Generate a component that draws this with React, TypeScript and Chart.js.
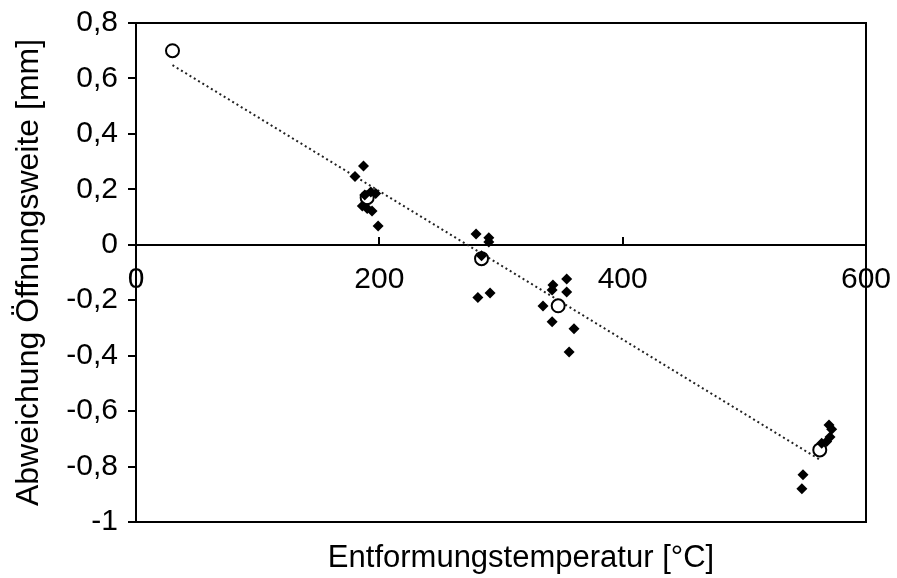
import React, { useEffect, useRef } from "react";
import { Chart, registerables } from "chart.js";

Chart.register(...registerables);

// Mean values (open circles)
const meanX = [30, 190, 284, 347, 562];
const meanY = [0.7, 0.17, -0.05, -0.22, -0.74];

// Individual measurements (black diamonds)
const measX = [
  180, 187, 186, 190, 194, 193, 197, 188, 199,
  279.5, 290, 290, 284, 281, 291,
  354, 342.7, 342, 354, 334.5, 342, 360, 356,
  569.6, 571.8, 570.4, 567.7, 563.6, 548.2, 547.3,
];
const measY = [
  0.246, 0.284, 0.14, 0.131, 0.122, 0.19, 0.185, 0.18, 0.068,
  0.039, 0.025, 0.01, -0.04, -0.19, -0.174,
  -0.123, -0.145, -0.163, -0.17, -0.221, -0.278, -0.303, -0.387,
  -0.65, -0.665, -0.693, -0.71, -0.716, -0.83, -0.88,
];

// Linear trendline through the means (end points as read)
const trendX = [30, 562];
const trendY = [0.648, -0.775];

const xTicks = [0, 200, 400, 600];
const yTickStep = 0.2;

const xTitle = "Entformungstemperatur [°C]";
const yTitle = "Abweichung Öffnungsweite [mm]";

const FONT = "'Liberation Sans', Arial, sans-serif";

const toPoints = (xs: number[], ys: number[]) => xs.map((x, i) => ({ x, y: ys[i] }));

const boxPlugin = {
  id: "plotBox",
  afterLayout(chart: any) {
    // the bottom title sits a little right of the plot centre
    const s = chart.scales.x2;
    if (s) s.left += 40;
  },
  afterDraw(chart: any) {
    const { ctx, chartArea } = chart;
    ctx.save();
    ctx.strokeStyle = "#000";
    ctx.lineWidth = 2;
    ctx.beginPath();
    ctx.moveTo(chartArea.left, chartArea.top);
    ctx.lineTo(chartArea.right, chartArea.top);
    ctx.lineTo(chartArea.right, chartArea.bottom);
    ctx.lineTo(chartArea.left - 8, chartArea.bottom);
    ctx.stroke();
    ctx.restore();
  },
};

export default function App() {
  const ref = useRef<HTMLCanvasElement | null>(null);

  useEffect(() => {
    if (!ref.current) return;
    const chart = new Chart(ref.current, {
      type: "scatter",
      data: {
        datasets: [
          {
            label: "Messwerte",
            data: toPoints(measX, measY),
            pointStyle: "rectRot",
            pointRadius: 5.5,
            backgroundColor: "#000",
            borderColor: "#000",
            borderWidth: 0,
          },
          {
            label: "Mittelwerte",
            data: toPoints(meanX, meanY),
            pointStyle: "circle",
            pointRadius: 6.5,
            backgroundColor: "#fff",
            borderColor: "#000",
            borderWidth: 2,
          },
          {
            label: "Trend",
            data: toPoints(trendX, trendY),
            showLine: true,
            pointRadius: 0,
            borderColor: "#222",
            borderWidth: 2,
            borderDash: [2, 3],
          },
        ],
      } as any,
      options: {
        animation: false,
        responsive: false,
        devicePixelRatio: 1,
        layout: { padding: { left: 0, top: 23, right: 31, bottom: 0 } },
        plugins: { legend: { display: false }, tooltip: { enabled: false } },
        scales: {
          x: {
            type: "linear",
            min: xTicks[0],
            max: xTicks[xTicks.length - 1],
            position: { y: 0 } as any,
            afterBuildTicks: (s: any) => {
              s.ticks = xTicks.map((v) => ({ value: v }));
            },
            afterFit: (s: any) => {
              s.paddingLeft = 0;
              s.paddingRight = 0;
            },
            ticks: {
              font: { family: FONT, size: 30 },
              color: "#000",
              padding: 26,
              maxRotation: 0,
              autoSkip: false,
              callback: (v: any) => String(v),
            },
            grid: { drawOnChartArea: false, tickLength: -9, color: "#000", lineWidth: 2 },
            border: { display: true, color: "#000", width: 2 },
            title: { display: false },
          },
          x2: {
            type: "linear",
            min: xTicks[0],
            max: xTicks[xTicks.length - 1],
            position: "bottom",
            ticks: { display: false },
            grid: { display: false },
            border: { display: false },
            title: {
              display: true,
              text: xTitle,
              font: { family: FONT, size: 31 },
              color: "#000",
              padding: { top: 0, bottom: 1 },
            },
            afterFit: (s: any) => {
              s.height = 56;
              s.paddingLeft = 0;
              s.paddingRight = 0;
            },
          },
          y: {
            type: "linear",
            min: -1,
            max: 0.8,
            position: "left",
            ticks: {
              stepSize: yTickStep,
              font: { family: FONT, size: 30 },
              color: "#000",
              padding: 10,
              callback: (v: any) => String(Number(Number(v).toFixed(1))).replace(".", ","),
            },
            grid: { drawOnChartArea: false, tickLength: 8, color: "#000", lineWidth: 2 },
            border: { display: true, color: "#000", width: 2 },
            title: {
              display: true,
              text: yTitle,
              font: { family: FONT, size: 32 },
              color: "#000",
              padding: { top: 10, bottom: 0 },
            },
            afterFit: (s: any) => {
              s.width = 136;
              s.paddingTop = 0;
              s.paddingBottom = 0;
            },
          },
        },
      } as any,
      plugins: [boxPlugin],
    });
    return () => chart.destroy();
  }, []);

  return (
    <div style={{ position: "absolute", left: 0, top: 0, width: 897, height: 578, background: "#fff" }}>
      <canvas ref={ref} width={897} height={578} style={{ display: "block" }} />
    </div>
  );
}
